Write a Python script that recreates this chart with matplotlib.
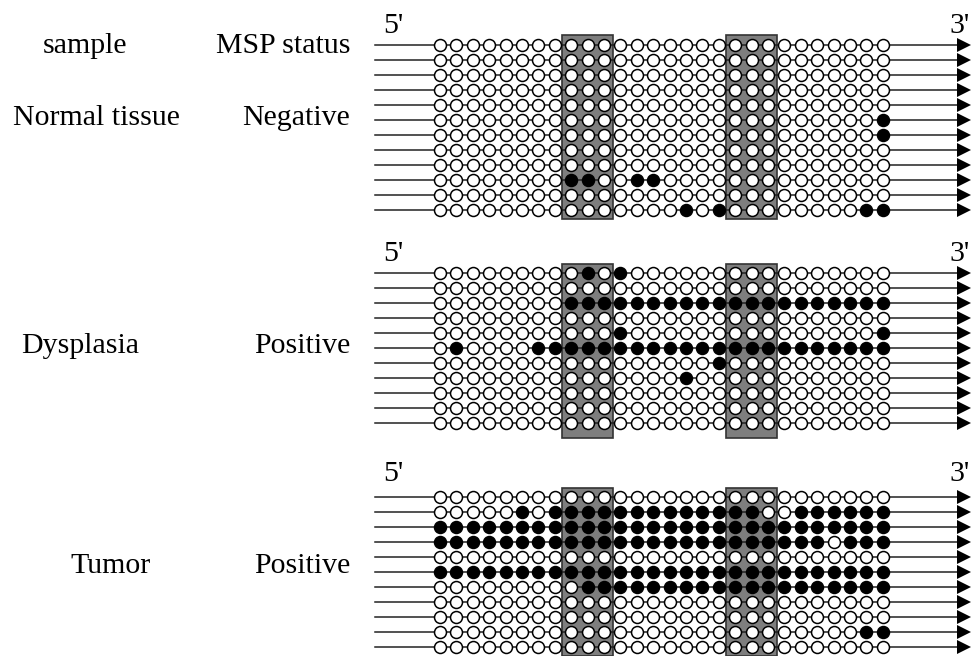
import matplotlib.pyplot as plt
import matplotlib.patches as patches

plt.rcParams['font.family'] = ['Liberation Serif', 'DejaVu Serif']

# methylation pattern per clone: 'o' = unmethylated CpG, '#' = methylated CpG
# 28 CpG sites, grouped 8 | 3 (box) | 7 | 3 (box) | 7
normal = [
    "oooooooo|ooo|ooooooo|ooo|ooooooo",
    "oooooooo|ooo|ooooooo|ooo|ooooooo",
    "oooooooo|ooo|ooooooo|ooo|ooooooo",
    "oooooooo|ooo|ooooooo|ooo|ooooooo",
    "oooooooo|ooo|ooooooo|ooo|ooooooo",
    "oooooooo|ooo|ooooooo|ooo|oooooo#",
    "oooooooo|ooo|ooooooo|ooo|oooooo#",
    "oooooooo|ooo|ooooooo|ooo|ooooooo",
    "oooooooo|ooo|ooooooo|ooo|ooooooo",
    "oooooooo|##o|o##oooo|ooo|ooooooo",
    "oooooooo|ooo|ooooooo|ooo|ooooooo",
    "oooooooo|ooo|oooo#o#|ooo|ooooo##",
]
dysplasia = [
    "oooooooo|o#o|#oooooo|ooo|ooooooo",
    "oooooooo|ooo|ooooooo|ooo|ooooooo",
    "oooooooo|###|#######|###|#######",
    "oooooooo|ooo|ooooooo|ooo|ooooooo",
    "oooooooo|ooo|#oooooo|ooo|oooooo#",
    "o#oooo##|###|#######|###|#######",
    "oooooooo|ooo|oooooo#|ooo|ooooooo",
    "oooooooo|ooo|oooo#oo|ooo|ooooooo",
    "oooooooo|ooo|ooooooo|ooo|ooooooo",
    "oooooooo|ooo|ooooooo|ooo|ooooooo",
    "oooooooo|ooo|ooooooo|ooo|ooooooo",
]
tumor = [
    "oooooooo|ooo|ooooooo|ooo|ooooooo",
    "ooooo#o#|###|#######|##o|o######",
    "########|###|#######|###|#######",
    "########|###|#######|###|###o###",
    "oooooooo|ooo|ooooooo|ooo|ooooooo",
    "########|###|#######|###|#######",
    "oooooooo|o##|#######|###|#######",
    "oooooooo|ooo|ooooooo|ooo|ooooooo",
    "oooooooo|ooo|ooooooo|ooo|ooooooo",
    "oooooooo|ooo|ooooooo|ooo|ooooo##",
    "oooooooo|ooo|ooooooo|ooo|ooooooo",
]

samples = ["Normal tissue", "Dysplasia", "Tumor"]
msp_status = ["Negative", "Positive", "Positive"]
panels = [normal, dysplasia, tumor]
box_sites = [(8, 10), (18, 20)]

# layout (pixel space)
W, H = 973, 656
x_line0, x_tip = 375, 970
site_x0, site_dx = 440, 16.4
row_dy = 15
first_row = [45, 273, 497]
box_top = [35, 264, 488]
box_bot = [219, 438, 656]
label_y = [118, 346, 566]
sample_x = [96, 80, 111]
prime_y = [26, 254, 474]

fig = plt.figure(figsize=(9.73, 6.56), dpi=100)
ax = fig.add_axes([0, 0, 1, 1])
ax.set_xlim(0, W)
ax.set_ylim(H, 0)
ax.axis('off')

fs = 21.5
ax.text(85, 46, "sample", fontsize=fs, ha='center', va='center')
ax.text(350, 46, "MSP status", fontsize=fs, ha='right', va='center')

for p, rows in enumerate(panels):
    for (a, b) in box_sites:
        xl = site_x0 + a * site_dx - 8.8
        xr = site_x0 + b * site_dx + 8.8
        ax.add_patch(patches.Rectangle((xl, box_top[p]), xr - xl, box_bot[p] - box_top[p],
                                       facecolor='#7e7e7e', edgecolor='#333333', lw=1.2, zorder=1))
    for r, pattern in enumerate(rows):
        y = first_row[p] + r * row_dy
        calls = pattern.replace("|", "")
        ax.plot([x_line0, x_tip - 8], [y, y], color='#222222', lw=1.1, zorder=2)
        ax.plot([x_tip - 6.5], [y], marker='>', ms=9.4, color='black', mew=0, zorder=2)
        for i, c in enumerate(calls):
            fc = 'black' if c == '#' else 'white'
            ax.plot([site_x0 + i * site_dx], [y], marker='o', ms=8.6, mfc=fc, mec='black',
                    mew=1.1, zorder=3)
    ax.text(393, prime_y[p], "5'", fontsize=fs, ha='center', va='center')
    ax.text(960, prime_y[p], "3'", fontsize=fs, ha='center', va='center')
    ax.text(sample_x[p], label_y[p], samples[p], fontsize=fs, ha='center', va='center')
    ax.text(350, label_y[p], msp_status[p], fontsize=fs, ha='right', va='center')

fig.savefig("out.png", dpi=100)
